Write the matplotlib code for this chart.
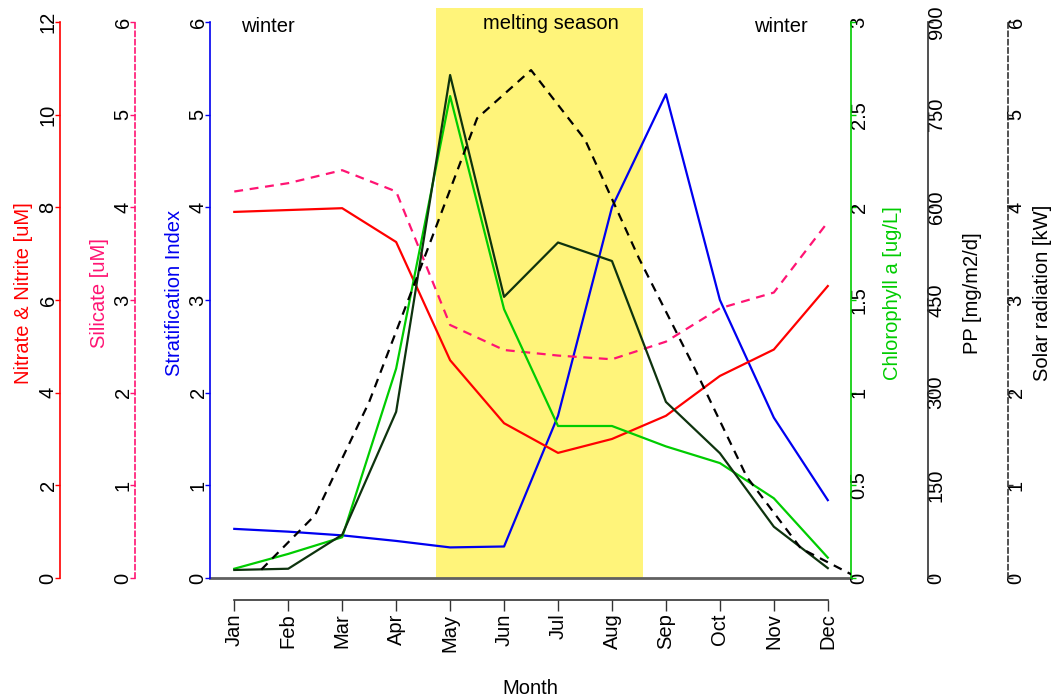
import matplotlib.pyplot as plt

plt.rcParams['font.family'] = ['Liberation Sans', 'DejaVu Sans']
plt.rcParams['font.size'] = 14.5

# monthly values
months = ['Jan', 'Feb', 'Mar', 'Apr', 'May', 'Jun', 'Jul', 'Aug', 'Sep', 'Oct', 'Nov', 'Dec']
month_pos = list(range(1, 13))
nitrate = [7.90, 7.94, 7.98, 7.25, 4.70, 3.34, 2.70, 3.00, 3.50, 4.36, 4.93, 6.30]
silicate = [4.17, 4.26, 4.40, 4.17, 2.73, 2.46, 2.40, 2.36, 2.55, 2.91, 3.08, 3.84]
strat = [0.53, 0.50, 0.46, 0.40, 0.33, 0.34, 1.75, 4.00, 5.22, 3.00, 1.73, 0.84]
chla = [0.05, 0.13, 0.22, 1.13, 2.60, 1.45, 0.82, 0.82, 0.71, 0.62, 0.43, 0.11]
pp = [13, 15, 70, 269, 814, 455, 543, 513, 285, 202, 83, 16]

# solar radiation is plotted at mid-month
solar_pos = [1.5, 2.5, 3.5, 4.5, 5.5, 6.5, 7.5, 8.5, 9.5, 10.5, 11.5, 12.5]
solar = [0.09, 0.68, 1.90, 3.42, 4.96, 5.48, 4.73, 3.45, 2.30, 1.09, 0.32, 0.02]

melt_start, melt_end = 4.73, 8.58

RED = '#FF0000'
PINK = '#FF1473'
BLUE = '#0000F0'
GREEN = '#00CC00'
DKGREEN = '#0E330E'
YELLOW = '#FFF47A'

TOP = 6.15 / 6.0   # plot region goes a little above the top tick
TICKLEN = 3.6

fig = plt.figure(figsize=(10.52, 6.99), dpi=100)
ax = fig.add_axes([210 / 1052, 1 - 578 / 699, 641 / 1052, 570 / 699])
W = 641.0


def style_axis(a, side, offset, color, ls, ticks, labels, title, title_color, title_dx):
    for s in a.spines.values():
        s.set_visible(False)
    sp = a.spines[side]
    sp.set_visible(True)
    sp.set_position(('axes', offset))
    sp.set_color(color)
    sp.set_linestyle(ls)
    sp.set_linewidth(1.2)
    sp.set_bounds(ticks[0], ticks[-1])
    a.set_ylim(0, ticks[-1] * TOP)
    a.yaxis.set_ticks_position(side)
    a.yaxis.set_label_position(side)
    a.set_yticks(ticks)
    a.set_yticklabels(labels)
    pad = 5 if side == 'left' else 2.2
    a.tick_params(axis='y', direction='out', length=TICKLEN, width=1, color=color,
                  labelcolor='black', labelrotation=90, pad=pad)
    for t in a.get_yticklabels():
        t.set_ha('center')
        t.set_va('center')
    a.set_ylabel(title, color=title_color)
    a.yaxis.label.set_rotation_mode('anchor')
    a.yaxis.label.set_ha('center')
    a.yaxis.label.set_va('center')
    a.yaxis.set_label_coords(offset + title_dx / W, 0.5)


# melting season band and zero line
ax.axvspan(melt_start, melt_end, color=YELLOW, lw=0, zorder=0)
ax.axhline(0, color='#606060', lw=2, clip_on=False, zorder=1)

# stratification (host axis)
ax.plot(month_pos, strat, color=BLUE, lw=1.6, zorder=3)
ax.set_xlim(0.55, 12.43)
style_axis(ax, 'left', 0.0, BLUE, '-', [0, 1, 2, 3, 4, 5, 6],
           ['0', '1', '2', '3', '4', '5', '6'], 'Stratification Index', BLUE, -35)

# month axis below the plot
ax.spines['bottom'].set_visible(True)
ax.spines['bottom'].set_position(('outward', 16))
ax.spines['bottom'].set_bounds(1, 12)
ax.spines['bottom'].set_color('#333333')
ax.spines['bottom'].set_linewidth(1.2)
ax.set_xticks(month_pos)
ax.set_xticklabels(months, rotation=90)
ax.tick_params(axis='x', direction='out', length=8, width=1, color='#333333', pad=1.5)
ax.set_xlabel('Month')
ax.xaxis.label.set_va('center')
ax.xaxis.set_label_coords(0.5, -0.193)

# nitrate & nitrite
ax_n = ax.twinx()
ax_n.plot(month_pos, nitrate, color=RED, lw=1.6)
style_axis(ax_n, 'left', -150 / W, RED, '-', [0, 2, 4, 6, 8, 10, 12],
           ['0', '2', '4', '6', '8', '10', '12'], 'Nitrate & Nitrite [uM]', RED, -36)

# silicate
ax_s = ax.twinx()
ax_s.plot(month_pos, silicate, color=PINK, lw=1.6, dashes=(4, 3))
style_axis(ax_s, 'left', -75 / W, PINK, (0, (3, 2)), [0, 1, 2, 3, 4, 5, 6],
           ['0', '1', '2', '3', '4', '5', '6'], 'Silicate [uM]', PINK, -35)

# chlorophyll a
ax_c = ax.twinx()
ax_c.plot(month_pos, chla, color=GREEN, lw=1.6)
style_axis(ax_c, 'right', 1.0, GREEN, '-', [0, 0.5, 1, 1.5, 2, 2.5, 3],
           ['0', '0.5', '1', '1.5', '2', '2.5', '3'], 'Chlorophyll a [ug/L]', GREEN, 41)

# primary production
ax_p = ax.twinx()
ax_p.plot(month_pos, pp, color=DKGREEN, lw=1.6)
style_axis(ax_p, 'right', 718 / W, '#333333', '-', [0, 150, 300, 450, 600, 750, 900],
           ['0', '150', '300', '450', '600', '750', '900'], 'PP [mg/m2/d]', 'black', 44)

# solar radiation
ax_r = ax.twinx()
ax_r.plot(solar_pos, solar, color='black', lw=1.6, dashes=(4, 3))
style_axis(ax_r, 'right', 798 / W, '#333333', (0, (3, 2)), [0, 1, 2, 3, 4, 5, 6],
           ['0', '1', '2', '3', '4', '5', '6'], 'Solar radiation [kW]', 'black', 35)

# season labels
ax.text(1.62, 5.95, 'winter', ha='center', va='center', zorder=5)
ax.text(6.87, 5.98, 'melting season', ha='center', va='center', zorder=5)
ax.text(11.13, 5.95, 'winter', ha='center', va='center', zorder=5)

fig.savefig('out.png', dpi=100)
